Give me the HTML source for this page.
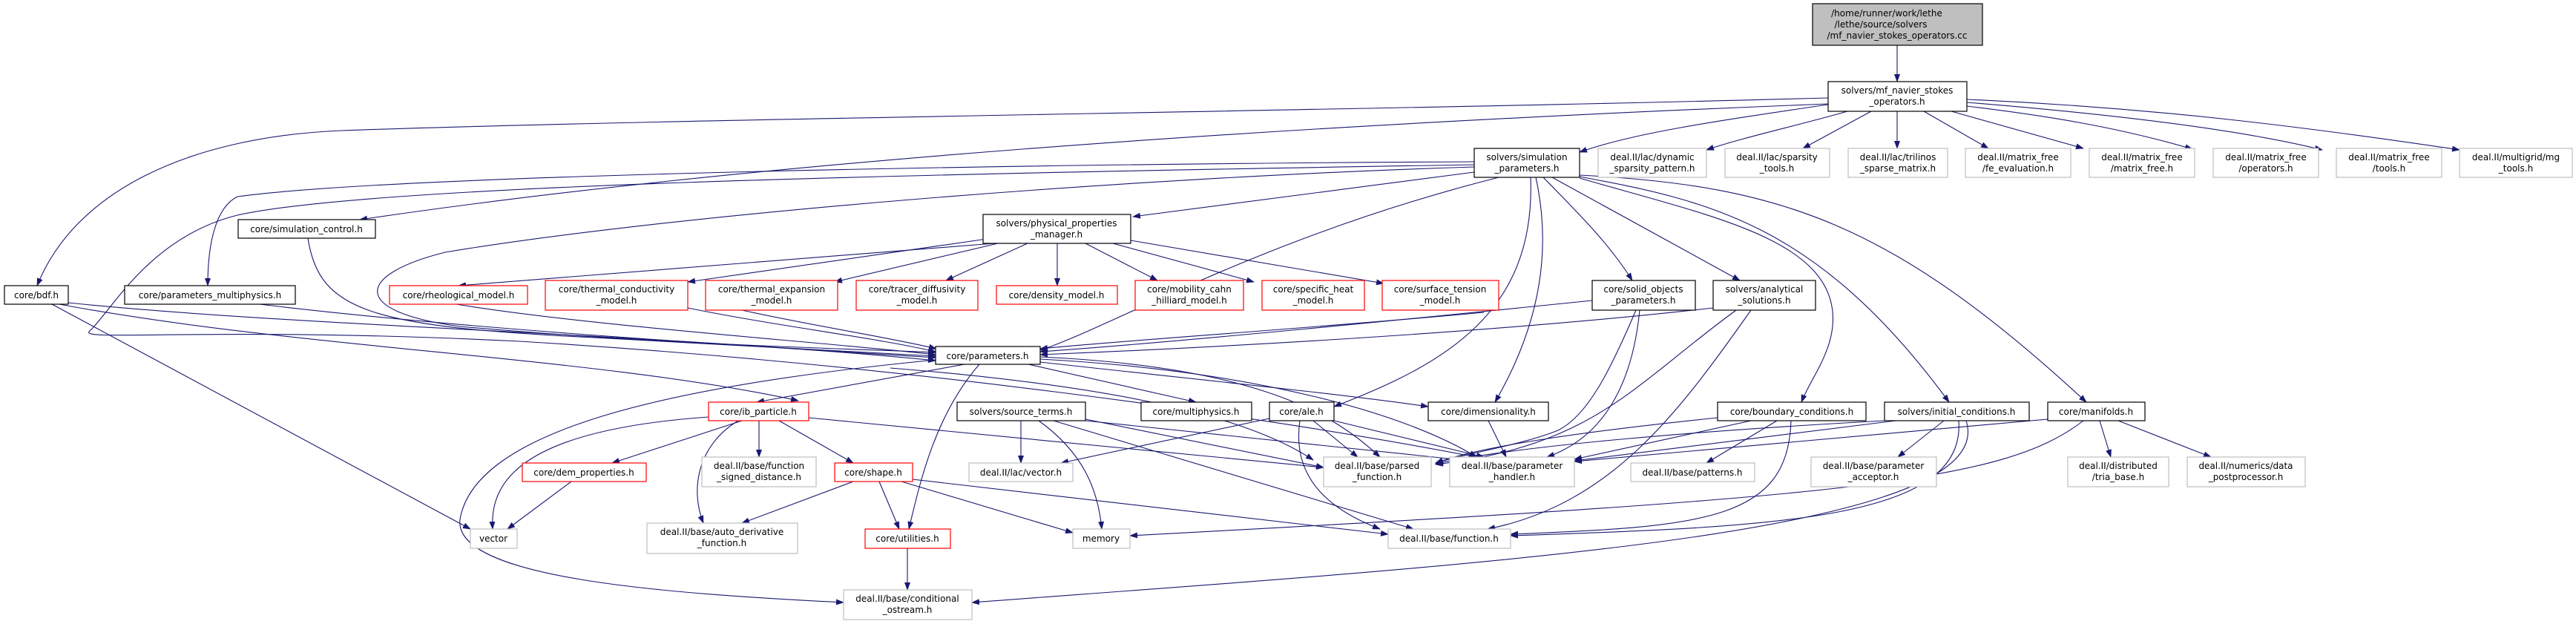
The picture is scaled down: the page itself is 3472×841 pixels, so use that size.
<!DOCTYPE html>
<html><head><meta charset="utf-8"><style>
html,body{margin:0;padding:0;background:#fff;}
svg{display:block;}
text{font-family:"DejaVu Sans","Liberation Sans",sans-serif;font-size:12px;fill:#000;text-anchor:middle;}
.e{fill:none;stroke:#191970;stroke-width:1.1;marker-end:url(#a);}
.b{fill:#fff;stroke:#000;stroke-width:1.2;}
.r{fill:#fff;stroke:#ff0000;stroke-width:1.2;}
.g{fill:#fff;stroke:#bfbfbf;stroke-width:1.2;}
</style></head><body>
<svg width="3472" height="841" viewBox="0 0 3472 841" xmlns="http://www.w3.org/2000/svg">
<defs><marker id="a" markerWidth="11" markerHeight="8" refX="10" refY="4" orient="auto" markerUnits="userSpaceOnUse"><path d="M0,0 L11,4 L0,8 z" fill="#191970"/></marker></defs>
<g>
<path class="e" d="M2557,61 L2557,110"/>
<path class="e" d="M2470,140 C2300,165 2200,180 2129,205"/>
<path class="e" d="M2490,150 C2420,170 2350,185 2300,202"/>
<path class="e" d="M2522,150 L2430,200"/>
<path class="e" d="M2557,150 L2557,200"/>
<path class="e" d="M2593,150 L2680,200"/>
<path class="e" d="M2630,150 L2808,200"/>
<path class="e" d="M2651,143 C2750,155 2850,170 2955,201"/>
<path class="e" d="M2651,138 C2800,150 3000,170 3130,202"/>
<path class="e" d="M2651,134 C2900,145 3100,170 3315,202"/>
<path class="e" d="M2464,132 C1800,150 900,160 460,176 C250,185 100,260 50,385"/>
<path class="e" d="M2464,140 C1700,170 1000,220 485,296"/>
<path class="e" d="M1987,218 C1200,222 500,240 320,265 C290,280 280,330 280,385"/>
<path class="e" d="M1987,225 C1500,240 900,290 600,340 C480,370 470,420 620,440 C900,465 1150,470 1261,475"/>
<path class="e" d="M1987,222 C1200,235 500,250 320,290 C200,320 150,420 120,447 C110,460 300,440 700,460 C1200,490 1700,560 1990,616"/>
<path class="e" d="M1987,232 L1527,292"/>
<path class="e" d="M2080,239 C2130,290 2170,330 2200,378"/>
<path class="e" d="M2092,239 L2345,378"/>
<path class="e" d="M2129,240 C2300,290 2460,320 2470,420 C2475,470 2440,510 2428,542"/>
<path class="e" d="M2129,238 C2300,270 2450,300 2627,542"/>
<path class="e" d="M2129,236 C2400,250 2550,300 2812,542"/>
<path class="e" d="M2070,239 C2090,330 2080,430 2015,542"/>
<path class="e" d="M2063,239 C2070,420 1950,490 1798,548"/>
<path class="e" d="M2020,239 C1700,320 1500,440 1402,472"/>
<path class="e" d="M1340,328 L618,385"/>
<path class="e" d="M1330,322 L927,380"/>
<path class="e" d="M1345,328 L1125,380"/>
<path class="e" d="M1385,328 L1275,378"/>
<path class="e" d="M1425,328 L1425,385"/>
<path class="e" d="M1463,328 L1560,378"/>
<path class="e" d="M1500,328 L1690,380"/>
<path class="e" d="M1524,324 L1865,382"/>
<path class="e" d="M615,410 C800,440 1100,460 1261,478"/>
<path class="e" d="M927,415 C1050,440 1180,455 1261,474"/>
<path class="e" d="M1000,418 C1100,440 1200,455 1262,470"/>
<path class="e" d="M2000,421 C1800,440 1500,460 1402,470"/>
<path class="e" d="M2146,405 C1900,430 1600,460 1402,474"/>
<path class="e" d="M2309,415 C2000,450 1600,470 1402,478"/>
<path class="e" d="M415,321 C430,420 500,440 800,455 C1000,465 1180,475 1261,480"/>
<path class="e" d="M350,410 C600,440 900,460 1261,482"/>
<path class="e" d="M92,408 C400,440 900,450 1261,486"/>
<path class="e" d="M70,410 L634,713"/>
<path class="e" d="M80,410 C400,470 800,480 1076,540"/>
<path class="e" d="M1300,491 L1020,542"/>
<path class="e" d="M1386,491 L1612,542"/>
<path class="e" d="M1402,488 C1600,510 1800,530 1925,548"/>
<path class="e" d="M1320,491 C1260,560 1240,650 1225,713"/>
<path class="e" d="M1261,485 C900,520 640,580 620,700 C610,780 900,800 1137,812"/>
<path class="e" d="M1402,481 C1700,495 1800,560 1860,616"/>
<path class="e" d="M1402,484 C1700,500 1900,560 1990,616"/>
<path class="e" d="M1200,496 C1500,520 1680,560 1770,620"/>
<path class="e" d="M1000,567 L825,624"/>
<path class="e" d="M1023,567 L1023,616"/>
<path class="e" d="M1050,567 L1150,624"/>
<path class="e" d="M995,567 C940,600 930,660 948,705"/>
<path class="e" d="M955,562 C700,580 660,650 664,713"/>
<path class="e" d="M1090,563 L1784,630"/>
<path class="e" d="M770,649 L684,713"/>
<path class="e" d="M1150,649 L1000,705"/>
<path class="e" d="M1185,649 L1212,713"/>
<path class="e" d="M1215,649 L1446,718"/>
<path class="e" d="M1230,646 L1871,720"/>
<path class="e" d="M1223,739 L1223,795"/>
<path class="e" d="M1376,567 L1376,624"/>
<path class="e" d="M1400,567 C1460,610 1480,660 1485,713"/>
<path class="e" d="M1463,565 L1784,630"/>
<path class="e" d="M1463,567 L1990,622"/>
<path class="e" d="M1420,567 L1905,713"/>
<path class="e" d="M1711,564 L1430,624"/>
<path class="e" d="M1770,567 L1830,616"/>
<path class="e" d="M1798,567 L2000,616"/>
<path class="e" d="M1752,567 C1740,650 1800,690 1860,713"/>
<path class="e" d="M2006,567 L2030,616"/>
<path class="e" d="M2205,418 C2170,500 2140,560 2100,580 C2050,600 1980,610 1935,624"/>
<path class="e" d="M2210,418 C2200,520 2160,590 2085,616"/>
<path class="e" d="M2340,418 C2200,520 2150,600 1935,626"/>
<path class="e" d="M2360,418 C2260,560 2170,680 2005,713"/>
<path class="e" d="M2315,563 C2150,580 2000,600 1935,624"/>
<path class="e" d="M2360,567 L2122,619"/>
<path class="e" d="M2395,567 L2300,624"/>
<path class="e" d="M2414,567 C2410,700 2300,710 2036,720"/>
<path class="e" d="M2540,567 C2300,580 2050,600 1935,625"/>
<path class="e" d="M2555,567 L2122,621"/>
<path class="e" d="M2620,567 L2558,616"/>
<path class="e" d="M2640,567 C2650,700 2400,710 2036,722"/>
<path class="e" d="M2650,567 C2700,720 2000,760 1310,812"/>
<path class="e" d="M2760,565 L2122,622"/>
<path class="e" d="M2808,567 C2700,650 2500,670 1523,722"/>
<path class="e" d="M2830,567 L2845,616"/>
<path class="e" d="M2855,567 L2980,616"/>
</g>
<g>
<rect x="2443" y="5" width="229" height="56" fill="#bfbfbf" stroke="#000" stroke-width="1.2"/>
<text x="2543" y="22">/home/runner/work/lethe</text><text x="2535" y="37">/lethe/source/solvers</text><text x="2557" y="52">/mf_navier_stokes_operators.cc</text>
<rect class="b" x="2464" y="110" width="187" height="40"/><text x="2557" y="126">solvers/mf_navier_stokes</text><text x="2557" y="141">_operators.h</text>
<rect class="b" x="1987" y="200" width="142" height="39"/><text x="2058" y="216">solvers/simulation</text><text x="2058" y="231">_parameters.h</text>
<rect class="g" x="2154" y="200" width="146" height="39"/><text x="2227" y="216">deal.II/lac/dynamic</text><text x="2227" y="231">_sparsity_pattern.h</text>
<rect class="g" x="2325" y="200" width="141" height="39"/><text x="2395" y="216">deal.II/lac/sparsity</text><text x="2395" y="231">_tools.h</text>
<rect class="g" x="2491" y="200" width="134" height="39"/><text x="2558" y="216">deal.II/lac/trilinos</text><text x="2558" y="231">_sparse_matrix.h</text>
<rect class="g" x="2649" y="200" width="142" height="39"/><text x="2720" y="216">deal.II/matrix_free</text><text x="2720" y="231">/fe_evaluation.h</text>
<rect class="g" x="2816" y="200" width="142" height="39"/><text x="2887" y="216">deal.II/matrix_free</text><text x="2887" y="231">/matrix_free.h</text>
<rect class="g" x="2983" y="200" width="142" height="39"/><text x="3054" y="216">deal.II/matrix_free</text><text x="3054" y="231">/operators.h</text>
<rect class="g" x="3149" y="200" width="142" height="39"/><text x="3220" y="216">deal.II/matrix_free</text><text x="3220" y="231">/tools.h</text>
<rect class="g" x="3315" y="200" width="152" height="39"/><text x="3391" y="216">deal.II/multigrid/mg</text><text x="3391" y="231">_tools.h</text>
<rect class="b" x="1325" y="289" width="199" height="39"/><text x="1424" y="305">solvers/physical_properties</text><text x="1424" y="320">_manager.h</text>
<rect class="b" x="321" y="296" width="185" height="25"/><text x="413" y="313">core/simulation_control.h</text>
<rect class="b" x="6" y="385" width="86" height="25"/><text x="49" y="402">core/bdf.h</text>
<rect class="b" x="168" y="385" width="230" height="25"/><text x="283" y="402">core/parameters_multiphysics.h</text>
<rect class="r" x="525" y="385" width="186" height="25"/><text x="618" y="402">core/rheological_model.h</text>
<rect class="r" x="735" y="378" width="192" height="40"/><text x="831" y="394">core/thermal_conductivity</text><text x="831" y="409">_model.h</text>
<rect class="r" x="951" y="378" width="178" height="40"/><text x="1040" y="394">core/thermal_expansion</text><text x="1040" y="409">_model.h</text>
<rect class="r" x="1154" y="378" width="164" height="40"/><text x="1236" y="394">core/tracer_diffusivity</text><text x="1236" y="409">_model.h</text>
<rect class="r" x="1343" y="385" width="163" height="25"/><text x="1424" y="402">core/density_model.h</text>
<rect class="r" x="1530" y="378" width="146" height="40"/><text x="1603" y="394">core/mobility_cahn</text><text x="1603" y="409">_hilliard_model.h</text>
<rect class="r" x="1701" y="378" width="138" height="40"/><text x="1770" y="394">core/specific_heat</text><text x="1770" y="409">_model.h</text>
<rect class="r" x="1863" y="378" width="157" height="40"/><text x="1941" y="394">core/surface_tension</text><text x="1941" y="409">_model.h</text>
<rect class="b" x="2146" y="378" width="139" height="40"/><text x="2215" y="394">core/solid_objects</text><text x="2215" y="409">_parameters.h</text>
<rect class="b" x="2309" y="378" width="138" height="40"/><text x="2378" y="394">solvers/analytical</text><text x="2378" y="409">_solutions.h</text>
<rect class="b" x="1261" y="467" width="141" height="24"/><text x="1331" y="484">core/parameters.h</text>
<rect class="r" x="955" y="542" width="135" height="25"/><text x="1022" y="559">core/ib_particle.h</text>
<rect class="b" x="1290" y="542" width="173" height="25"/><text x="1376" y="559">solvers/source_terms.h</text>
<rect class="b" x="1538" y="542" width="149" height="25"/><text x="1612" y="559">core/multiphysics.h</text>
<rect class="b" x="1711" y="542" width="87" height="25"/><text x="1754" y="559">core/ale.h</text>
<rect class="b" x="1925" y="542" width="162" height="25"/><text x="2006" y="559">core/dimensionality.h</text>
<rect class="b" x="2315" y="542" width="200" height="25"/><text x="2415" y="559">core/boundary_conditions.h</text>
<rect class="b" x="2540" y="542" width="195" height="25"/><text x="2637" y="559">solvers/initial_conditions.h</text>
<rect class="b" x="2760" y="542" width="131" height="25"/><text x="2825" y="559">core/manifolds.h</text>
<rect class="r" x="704" y="624" width="167" height="25"/><text x="787" y="641">core/dem_properties.h</text>
<rect class="g" x="946" y="616" width="154" height="40"/><text x="1023" y="632">deal.II/base/function</text><text x="1023" y="647">_signed_distance.h</text>
<rect class="r" x="1125" y="624" width="105" height="25"/><text x="1177" y="641">core/shape.h</text>
<rect class="g" x="1306" y="624" width="140" height="25"/><text x="1376" y="641">deal.II/lac/vector.h</text>
<rect class="g" x="1784" y="616" width="145" height="40"/><text x="1856" y="632">deal.II/base/parsed</text><text x="1856" y="647">_function.h</text>
<rect class="g" x="1954" y="616" width="168" height="40"/><text x="2038" y="632">deal.II/base/parameter</text><text x="2038" y="647">_handler.h</text>
<rect class="g" x="2198" y="624" width="167" height="25"/><text x="2281" y="641">deal.II/base/patterns.h</text>
<rect class="g" x="2441" y="616" width="169" height="40"/><text x="2525" y="632">deal.II/base/parameter</text><text x="2525" y="647">_acceptor.h</text>
<rect class="g" x="2787" y="616" width="136" height="40"/><text x="2855" y="632">deal.II/distributed</text><text x="2855" y="647">/tria_base.h</text>
<rect class="g" x="2948" y="616" width="159" height="40"/><text x="3027" y="632">deal.II/numerics/data</text><text x="3027" y="647">_postprocessor.h</text>
<rect class="g" x="634" y="713" width="63" height="26"/><text x="665" y="730">vector</text>
<rect class="g" x="872" y="705" width="203" height="41"/><text x="973" y="721">deal.II/base/auto_derivative</text><text x="973" y="736">_function.h</text>
<rect class="r" x="1166" y="713" width="115" height="26"/><text x="1223" y="730">core/utilities.h</text>
<rect class="g" x="1446" y="713" width="77" height="26"/><text x="1484" y="730">memory</text>
<rect class="g" x="1871" y="713" width="165" height="26"/><text x="1953" y="730">deal.II/base/function.h</text>
<rect class="g" x="1137" y="795" width="173" height="40"/><text x="1223" y="811">deal.II/base/conditional</text><text x="1223" y="826">_ostream.h</text>
</g>
</svg>
</body></html>
